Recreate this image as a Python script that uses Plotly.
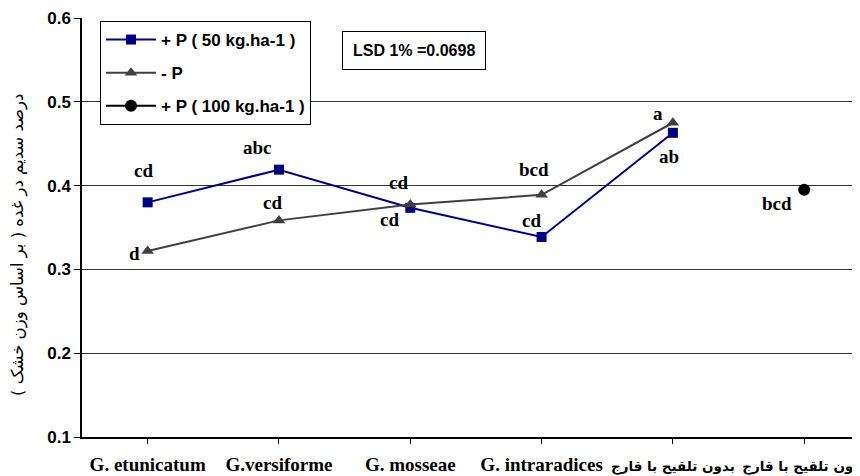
import plotly.graph_objects as go

categories = ["G. etunicatum", "G.versiforme", "G. mosseae", "G. intraradices",
              "بدون تلقیح با قارج", "بدون تلقیح با قارج"]
tick_labels = ["<b>G. etunicatum</b>", "<b>G.versiforme</b>", "<b>G. mosseae</b>",
               "<b>G. intraradices</b>",
               "<b><span style='font-family:DejaVu Sans;font-size:13.5px'>بدون تلقیح با قارج</span></b>",
               "<b><span style='font-family:DejaVu Sans;font-size:13.5px'>بدون تلقیح با قارج</span></b>"]
x_idx = [0, 1, 2, 3, 4, 5]

p50_vals = [0.380, 0.419, 0.3735, 0.3387, 0.463]
minus_p_vals = [0.322, 0.3585, 0.3775, 0.389, 0.475]
p100_vals = [0.395]
p100_x = [5]

# letter labels: text, x (category index), y (value)
letter_text = ["cd", "abc", "cd", "cd", "cd", "bcd", "cd", "d", "a", "ab", "bcd"]
letter_x = [-0.03, 0.84, 0.95, 1.91, 1.845, 2.94, 2.92, -0.10, 3.89, 3.97, 4.79]
letter_y = [0.418, 0.446, 0.380, 0.404, 0.359, 0.419, 0.3585, 0.319, 0.486, 0.435, 0.379]

PW = 778.0  # plot width in px
PH = 419.0  # plot height in px

fig = go.Figure()
fig.add_trace(go.Scatter(x=x_idx[:5], y=p50_vals, mode="lines+markers",
                         name="<b>+ P ( 50 kg.ha-1 )</b>", legendgroup="a",
                         line=dict(color="#000080", width=2),
                         marker=dict(symbol="square", size=10, color="#000080")))
fig.add_trace(go.Scatter(x=x_idx[:5], y=minus_p_vals, mode="lines+markers",
                         name="<b>- P</b>", legendgroup="b",
                         line=dict(color="#404040", width=2),
                         marker=dict(symbol="triangle-up", size=11, color="#404040")))
fig.add_trace(go.Scatter(x=p100_x, y=p100_vals, mode="lines+markers",
                         name="<b>+ P ( 100 kg.ha-1 )</b>", legendgroup="c",
                         line=dict(color="#000000", width=2),
                         marker=dict(symbol="circle", size=12, color="#000000")))

for t, xx, yy in zip(letter_text, letter_x, letter_y):
    fig.add_annotation(x=xx, y=yy, xref="x", yref="y", text="<b>" + t + "</b>",
                       showarrow=False,
                       font=dict(family="Liberation Serif", size=19, color="#000000"))

fig.add_annotation(x=(414 - 82) / PW, y=(437 - 50.5) / PH, xref="paper", yref="paper",
                   text="<b>LSD 1% =0.0698</b>", showarrow=False,
                   xanchor="center", yanchor="middle",
                   font=dict(family="Liberation Sans", size=16, color="#000000"),
                   bordercolor="#000000", borderwidth=1, borderpad=10, bgcolor="#ffffff")

fig.add_annotation(x=(18 - 82) / PW, y=(437 - 245) / PH, xref="paper", yref="paper",
                   text="درصد سدیم در غده ( بر اساس وزن خشک )", textangle=-90,
                   showarrow=False, xanchor="center", yanchor="middle",
                   font=dict(family="DejaVu Sans", size=16.5, color="#000000"))

fig.update_layout(
    width=852, height=468,
    margin=dict(l=74, r=0, t=10, b=39, autoexpand=False),
    plot_bgcolor="#ffffff", paper_bgcolor="#ffffff",
    showlegend=True,
    legend=dict(x=(100 - 82) / PW, y=(437 - 21) / PH, xanchor="left", yanchor="top",
                bgcolor="#ffffff", bordercolor="#000000", borderwidth=1,
                font=dict(family="Liberation Sans", size=17, color="#000000"),
                tracegroupgap=8, itemwidth=50),
    xaxis=dict(range=[-0.5, 5.425], tickmode="array", tickvals=x_idx, ticktext=tick_labels,
               showgrid=False, zeroline=False, showline=True, linecolor="#000000", linewidth=1.5,
               ticks="outside", tickson="boundaries", ticklen=5, tickcolor="#000000",
               tickfont=dict(family="Liberation Serif", size=19, color="#000000"),
               ticklabelstandoff=4, ticklabeloverflow="allow", automargin=False),
    yaxis=dict(range=[0.1, 0.6], dtick=0.1, tickformat=".1f",
               showgrid=True, gridcolor="#333333", gridwidth=1,
               zeroline=False, showline=True, linecolor="#000000", linewidth=1.5,
               ticks="outside", ticklen=6, tickcolor="#000000",
               tickfont=dict(family="Liberation Sans", size=17, color="#000000"),
               tickprefix="<b>", ticksuffix="</b>", automargin=False),
)

fig.write_html("out.html")
